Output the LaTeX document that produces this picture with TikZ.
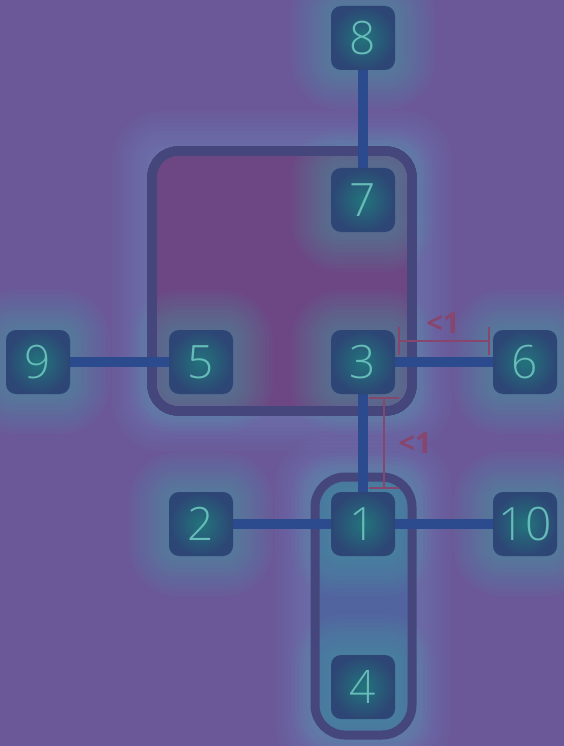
\documentclass[tikz,border=0pt]{standalone}
\usepackage{fontspec}
\setmainfont{Open Sans}
\newfontfamily\thindigits{Open Sans Light}
\definecolor{bgpurple}{HTML}{6A5898}
\definecolor{roompurple}{HTML}{6C4784}
\definecolor{stemblue}{HTML}{52649F}
\definecolor{glowteal}{HTML}{3FB8B2}
\definecolor{haloblue}{HTML}{7FA0D0}
\definecolor{boxblue}{HTML}{2D4675}
\definecolor{boxteal}{HTML}{22747C}
\definecolor{digitteal}{HTML}{66BCB8}
\definecolor{wireblue}{HTML}{2C4A8E}
\definecolor{rimblue}{HTML}{45467C}
\definecolor{dimred}{HTML}{86466E}
\usetikzlibrary{positioning}
\pgfdeclarelayer{back}
\pgfdeclarelayer{wires}
\pgfsetlayers{back,wires,main}
% soft glow: x, y, half width, half height, colour
\newcommand{\glow}[5]{%
  \foreach \g [evaluate=\g as \r using 10+\g] in {4,8,...,40}
    \fill[#5,fill opacity=0.045,rounded corners=\r pt] ({#1-#3-\g},{#2-#4-\g}) rectangle ({#1+#3+\g},{#2+#4+\g});}
\tikzset{
  cell/.style={rounded corners=10pt,minimum size=64pt,inner sep=0pt,shading=radial,inner color=boxteal,outer color=boxblue,text=digitteal,font=\thindigits\fontsize{46}{46}\selectfont},
  wire/.style={line width=10pt,draw=wireblue},
  rim/.style={line width=9pt,draw=rimblue},
  dimline/.style={draw=dimred,line width=1.6pt},
  dimlabel/.style={text=dimred,inner sep=0pt,font=\bfseries\fontsize{29}{29}\selectfont}
}
\begin{document}
\begin{tikzpicture}[x=1pt,y=-1pt,line join=round]
	\useasboundingbox (0,0) rectangle (564,746);
	% cells
	\node[cell] (n8) at (363,38) {8};
	\node[cell] (n7) at (363,200) {7};
	\node[cell] (n9) at (38,362) {9};
	\node[cell] (n5) at (201,362) {5};
	\node[cell] (n3) at (363,362) {3};
	\node[cell] (n6) at (525,362) {6};
	\node[cell] (n2) at (201,524) {2};
	\node[cell] (n1) at (363,524) {1};
	\node[cell] (n10) at (525,524) {10};
	\node[cell] (n4) at (363,687) {4};
	\begin{pgfonlayer}{wires}
	\draw[wire] (n8) -- (n7);
	\draw[wire] (n9) -- (n5);
	\draw[wire] (n3) -- (n6);
	\draw[wire] (n3) -- (n1);
	\draw[wire] (n2) -- (n1);
	\draw[wire] (n1) -- (n10);
	\end{pgfonlayer}
	% rooms
	\begin{pgfonlayer}{back}
	\fill[bgpurple] (0,0) rectangle (564,746);
	\glow{282}{281}{130}{130}{haloblue}
	\glow{363}{606}{48}{129}{haloblue}
	\fill[roompurple,rounded corners=22pt] (152,151) rectangle (412,411);
	\fill[stemblue,rounded corners=26pt] (315,477) rectangle (412,735);
	\foreach \x/\y in {363/200,201/362,363/362,363/524,363/687,38/362,525/362,201/524,525/524,363/38}
		\glow{\x}{\y}{32}{32}{glowteal}
	\draw[rim,rounded corners=26pt] (152,151) rectangle (412,411);
	\draw[rim,rounded corners=30pt] (315,477) rectangle (412,735);
	\end{pgfonlayer}
	% gaps
	\coordinate (ga) at (399,341);
	\coordinate (gb) at (489,341);
	\coordinate (gc) at (384,398);
	\coordinate (gd) at (384,488);
	\draw[dimline] (ga) -- (gb) (399,327) -- (399,355) (489,327) -- (489,355);
	\draw[dimline] (gc) -- (gd) (369,398) -- (399,398) (369,488) -- (399,488);
	\node[dimlabel] (lim1) at (443,323) {<1};
	\node[dimlabel] (lim2) at (415,443) {<1};
\end{tikzpicture}
\end{document}
